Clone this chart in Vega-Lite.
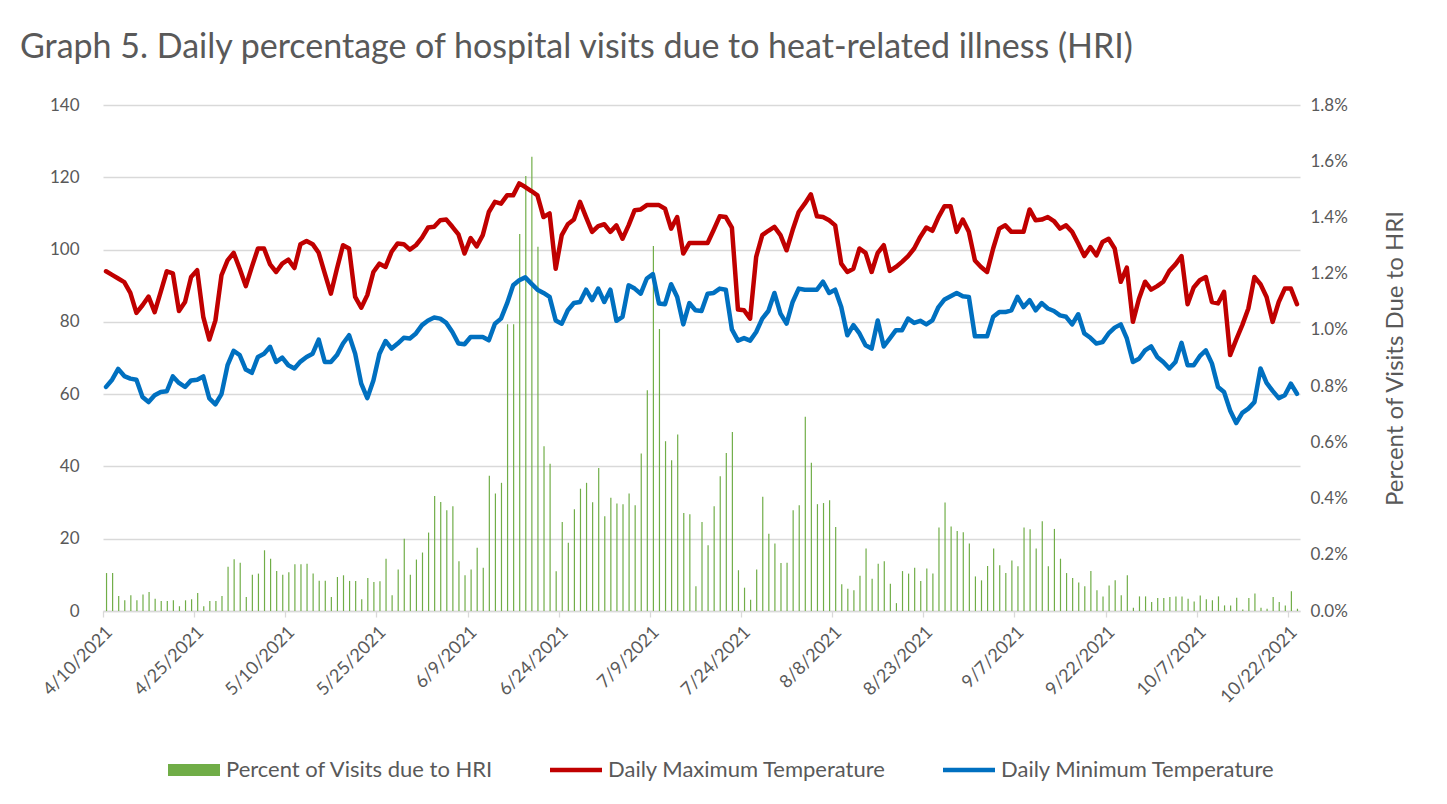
{
"$schema": "https://vega.github.io/schema/vega-lite/v6.json",
"width": 1197, "height": 506,
"autosize": {"type": "none"},
"padding": {"left": 103, "top": 105, "right": 147, "bottom": 193},
"background": "white",
"config": {"font": "Lato", "view": {"stroke": null}, "axis": {"labelFont": "Lato", "titleFont": "Lato", "labelColor": "#595959", "titleColor": "#595959"}, "legend": {"labelFont": "Lato"}},
"title": {"text": "Graph 5. Daily percentage of hospital visits due to heat-related illness (HRI)", "anchor": "start", "frame": "group", "dx": -83, "offset": 31, "fontSize": 34, "font": "Lato", "fontWeight": "normal", "color": "#595959"},
"data": {"values": [
{"d":"2021-04-10","hri":0.00135,"tmax":94,"tmin":62},
{"d":"2021-04-11","hri":0.00135,"tmax":93,"tmin":64},
{"d":"2021-04-12","hri":0.00053,"tmax":92,"tmin":67},
{"d":"2021-04-13","hri":0.00038,"tmax":91,"tmin":65},
{"d":"2021-04-14","hri":0.00056,"tmax":88,"tmin":64.3},
{"d":"2021-04-15","hri":0.00038,"tmax":82.5,"tmin":64},
{"d":"2021-04-16","hri":0.00059,"tmax":84.6,"tmin":59.2},
{"d":"2021-04-17","hri":0.00068,"tmax":87,"tmin":57.8},
{"d":"2021-04-18","hri":0.00044,"tmax":82.7,"tmin":59.7},
{"d":"2021-04-19","hri":0.00036,"tmax":88.3,"tmin":60.6},
{"d":"2021-04-20","hri":0.00036,"tmax":94,"tmin":60.8},
{"d":"2021-04-21","hri":0.00038,"tmax":93.4,"tmin":64.9},
{"d":"2021-04-22","hri":0.00017,"tmax":83,"tmin":63.1},
{"d":"2021-04-23","hri":0.00038,"tmax":85.5,"tmin":62},
{"d":"2021-04-24","hri":0.00042,"tmax":92.4,"tmin":63.8},
{"d":"2021-04-25","hri":0.00064,"tmax":94.3,"tmin":64},
{"d":"2021-04-26","hri":0.00017,"tmax":81.4,"tmin":64.9},
{"d":"2021-04-27","hri":0.00036,"tmax":75.1,"tmin":58.8},
{"d":"2021-04-28","hri":0.00036,"tmax":80.4,"tmin":57.2},
{"d":"2021-04-29","hri":0.00053,"tmax":92.9,"tmin":60},
{"d":"2021-04-30","hri":0.00157,"tmax":97,"tmin":68},
{"d":"2021-05-01","hri":0.00184,"tmax":99.1,"tmin":72},
{"d":"2021-05-02","hri":0.00172,"tmax":94.7,"tmin":70.8},
{"d":"2021-05-03","hri":0.0005,"tmax":89.9,"tmin":66.8},
{"d":"2021-05-04","hri":0.00129,"tmax":95.2,"tmin":65.9},
{"d":"2021-05-05","hri":0.00133,"tmax":100.3,"tmin":70.3},
{"d":"2021-05-06","hri":0.00216,"tmax":100.3,"tmin":71.2},
{"d":"2021-05-07","hri":0.00186,"tmax":95.9,"tmin":73.1},
{"d":"2021-05-08","hri":0.00142,"tmax":93.8,"tmin":68.9},
{"d":"2021-05-09","hri":0.00129,"tmax":96.1,"tmin":70.1},
{"d":"2021-05-10","hri":0.00138,"tmax":97.2,"tmin":68},
{"d":"2021-05-11","hri":0.00166,"tmax":94.9,"tmin":67.1},
{"d":"2021-05-12","hri":0.00166,"tmax":101.5,"tmin":69},
{"d":"2021-05-13","hri":0.00168,"tmax":102.4,"tmin":70.3},
{"d":"2021-05-14","hri":0.00133,"tmax":101.5,"tmin":71.2},
{"d":"2021-05-15","hri":0.00108,"tmax":99.1,"tmin":75.1},
{"d":"2021-05-16","hri":0.00108,"tmax":93.4,"tmin":68.9},
{"d":"2021-05-17","hri":0.0005,"tmax":87.8,"tmin":68.9},
{"d":"2021-05-18","hri":0.00121,"tmax":94.7,"tmin":70.8},
{"d":"2021-05-19","hri":0.00127,"tmax":101.2,"tmin":74},
{"d":"2021-05-20","hri":0.00107,"tmax":100.3,"tmin":76.3},
{"d":"2021-05-21","hri":0.00107,"tmax":86.9,"tmin":71.2},
{"d":"2021-05-22","hri":0.00042,"tmax":83.9,"tmin":62.9},
{"d":"2021-05-23","hri":0.00117,"tmax":87.4,"tmin":58.9},
{"d":"2021-05-24","hri":0.00103,"tmax":93.8,"tmin":63.8},
{"d":"2021-05-25","hri":0.00106,"tmax":96.1,"tmin":71.2},
{"d":"2021-05-26","hri":0.00186,"tmax":95.2,"tmin":74.7},
{"d":"2021-05-27","hri":0.00056,"tmax":99.4,"tmin":72.6},
{"d":"2021-05-28","hri":0.00148,"tmax":101.7,"tmin":74},
{"d":"2021-05-29","hri":0.00257,"tmax":101.5,"tmin":75.6},
{"d":"2021-05-30","hri":0.00129,"tmax":100,"tmin":75.4},
{"d":"2021-05-31","hri":0.00183,"tmax":101.2,"tmin":76.8},
{"d":"2021-06-01","hri":0.00208,"tmax":103.3,"tmin":79.1},
{"d":"2021-06-02","hri":0.00279,"tmax":106.1,"tmin":80.4},
{"d":"2021-06-03","hri":0.00409,"tmax":106.3,"tmin":81.2},
{"d":"2021-06-04","hri":0.00388,"tmax":108.1,"tmin":80.9},
{"d":"2021-06-05","hri":0.00358,"tmax":108.3,"tmin":79.7},
{"d":"2021-06-06","hri":0.00373,"tmax":106.3,"tmin":77.2},
{"d":"2021-06-07","hri":0.00177,"tmax":104.2,"tmin":74},
{"d":"2021-06-08","hri":0.00127,"tmax":98.9,"tmin":73.8},
{"d":"2021-06-09","hri":0.00148,"tmax":103.2,"tmin":75.8},
{"d":"2021-06-10","hri":0.00225,"tmax":100.9,"tmin":75.8},
{"d":"2021-06-11","hri":0.00154,"tmax":104,"tmin":75.8},
{"d":"2021-06-12","hri":0.00481,"tmax":110.4,"tmin":74.9},
{"d":"2021-06-13","hri":0.00418,"tmax":113.2,"tmin":79.5},
{"d":"2021-06-14","hri":0.00456,"tmax":112.7,"tmin":80.9},
{"d":"2021-06-15","hri":0.0102,"tmax":115,"tmin":85.1},
{"d":"2021-06-16","hri":0.0102,"tmax":115,"tmin":90.1},
{"d":"2021-06-17","hri":0.01341,"tmax":118.3,"tmin":91.5},
{"d":"2021-06-18","hri":0.01547,"tmax":117.3,"tmin":92.3},
{"d":"2021-06-19","hri":0.01616,"tmax":116.2,"tmin":90.6},
{"d":"2021-06-20","hri":0.01296,"tmax":115,"tmin":88.9},
{"d":"2021-06-21","hri":0.00586,"tmax":109,"tmin":88},
{"d":"2021-06-22","hri":0.00524,"tmax":110,"tmin":86.9},
{"d":"2021-06-23","hri":0.00141,"tmax":94.7,"tmin":80.4},
{"d":"2021-06-24","hri":0.00317,"tmax":104,"tmin":79.5},
{"d":"2021-06-25","hri":0.00243,"tmax":107,"tmin":83.2},
{"d":"2021-06-26","hri":0.00362,"tmax":108.3,"tmin":85.2},
{"d":"2021-06-27","hri":0.00435,"tmax":113.2,"tmin":85.5},
{"d":"2021-06-28","hri":0.00456,"tmax":109,"tmin":88.9},
{"d":"2021-06-29","hri":0.00387,"tmax":104.9,"tmin":86},
{"d":"2021-06-30","hri":0.00509,"tmax":106.5,"tmin":89.2},
{"d":"2021-07-01","hri":0.00337,"tmax":107,"tmin":85.5},
{"d":"2021-07-02","hri":0.00403,"tmax":104.9,"tmin":88.9},
{"d":"2021-07-03","hri":0.00382,"tmax":106.7,"tmin":80.3},
{"d":"2021-07-04","hri":0.0038,"tmax":103,"tmin":81.4},
{"d":"2021-07-05","hri":0.00418,"tmax":106.7,"tmin":90.1},
{"d":"2021-07-06","hri":0.00376,"tmax":110.9,"tmin":89.2},
{"d":"2021-07-07","hri":0.0056,"tmax":111.1,"tmin":87.8},
{"d":"2021-07-08","hri":0.00785,"tmax":112.3,"tmin":92},
{"d":"2021-07-09","hri":0.01298,"tmax":112.3,"tmin":93.2},
{"d":"2021-07-10","hri":0.01003,"tmax":112.3,"tmin":85.1},
{"d":"2021-07-11","hri":0.00604,"tmax":111.3,"tmin":84.9},
{"d":"2021-07-12","hri":0.00536,"tmax":105.8,"tmin":90.4},
{"d":"2021-07-13","hri":0.00628,"tmax":109,"tmin":86.9},
{"d":"2021-07-14","hri":0.00349,"tmax":98.9,"tmin":79.3},
{"d":"2021-07-15","hri":0.00344,"tmax":101.8,"tmin":85.2},
{"d":"2021-07-16","hri":0.00088,"tmax":101.8,"tmin":83.2},
{"d":"2021-07-17","hri":0.00317,"tmax":101.8,"tmin":83},
{"d":"2021-07-18","hri":0.00234,"tmax":101.8,"tmin":87.8},
{"d":"2021-07-19","hri":0.00373,"tmax":105.4,"tmin":88},
{"d":"2021-07-20","hri":0.00479,"tmax":109.2,"tmin":89.2},
{"d":"2021-07-21","hri":0.00562,"tmax":109,"tmin":88.9},
{"d":"2021-07-22","hri":0.00637,"tmax":106.1,"tmin":77.9},
{"d":"2021-07-23","hri":0.00145,"tmax":83.4,"tmin":74.8},
{"d":"2021-07-24","hri":0.00083,"tmax":83.2,"tmin":75.5},
{"d":"2021-07-25","hri":0.0004,"tmax":80.9,"tmin":74.8},
{"d":"2021-07-26","hri":0.00148,"tmax":98,"tmin":77.2},
{"d":"2021-07-27","hri":0.00406,"tmax":104,"tmin":80.9},
{"d":"2021-07-28","hri":0.00275,"tmax":105.2,"tmin":83},
{"d":"2021-07-29","hri":0.0024,"tmax":106.3,"tmin":88},
{"d":"2021-07-30","hri":0.00171,"tmax":104,"tmin":82.3},
{"d":"2021-07-31","hri":0.00172,"tmax":99.8,"tmin":79.5},
{"d":"2021-08-01","hri":0.00358,"tmax":105.4,"tmin":85.5},
{"d":"2021-08-02","hri":0.00376,"tmax":110.4,"tmin":89.2},
{"d":"2021-08-03","hri":0.00691,"tmax":112.7,"tmin":88.9},
{"d":"2021-08-04","hri":0.00527,"tmax":115.3,"tmin":88.9},
{"d":"2021-08-05","hri":0.0038,"tmax":109.2,"tmin":88.9},
{"d":"2021-08-06","hri":0.00384,"tmax":109,"tmin":91.1},
{"d":"2021-08-07","hri":0.00394,"tmax":108.1,"tmin":88},
{"d":"2021-08-08","hri":0.00299,"tmax":106.7,"tmin":88.9},
{"d":"2021-08-09","hri":0.00095,"tmax":96.1,"tmin":84.1},
{"d":"2021-08-10","hri":0.00079,"tmax":93.8,"tmin":76.3},
{"d":"2021-08-11","hri":0.00074,"tmax":94.7,"tmin":79.1},
{"d":"2021-08-12","hri":0.00125,"tmax":100.3,"tmin":76.8},
{"d":"2021-08-13","hri":0.00222,"tmax":99.1,"tmin":73.5},
{"d":"2021-08-14","hri":0.00115,"tmax":93.8,"tmin":72.6},
{"d":"2021-08-15","hri":0.00168,"tmax":99.1,"tmin":80.4},
{"d":"2021-08-16","hri":0.00177,"tmax":101.2,"tmin":73.2},
{"d":"2021-08-17","hri":0.00097,"tmax":94.1,"tmin":75.4},
{"d":"2021-08-18","hri":0.00028,"tmax":95.2,"tmin":77.7},
{"d":"2021-08-19","hri":0.00142,"tmax":96.6,"tmin":77.7},
{"d":"2021-08-20","hri":0.00133,"tmax":98.2,"tmin":80.9},
{"d":"2021-08-21","hri":0.00154,"tmax":100.3,"tmin":79.7},
{"d":"2021-08-22","hri":0.00107,"tmax":103.5,"tmin":80.3},
{"d":"2021-08-23","hri":0.00151,"tmax":106.1,"tmin":79.3},
{"d":"2021-08-24","hri":0.00133,"tmax":105.2,"tmin":80.4},
{"d":"2021-08-25","hri":0.00297,"tmax":109,"tmin":84.1},
{"d":"2021-08-26","hri":0.00386,"tmax":112,"tmin":86.2},
{"d":"2021-08-27","hri":0.00301,"tmax":112,"tmin":87.1},
{"d":"2021-08-28","hri":0.00285,"tmax":104.9,"tmin":88},
{"d":"2021-08-29","hri":0.0028,"tmax":108.3,"tmin":87.1},
{"d":"2021-08-30","hri":0.0024,"tmax":104.9,"tmin":86.9},
{"d":"2021-08-31","hri":0.00123,"tmax":97,"tmin":76},
{"d":"2021-09-01","hri":0.00109,"tmax":95.2,"tmin":76},
{"d":"2021-09-02","hri":0.0016,"tmax":93.8,"tmin":76},
{"d":"2021-09-03","hri":0.00222,"tmax":100.3,"tmin":81.4},
{"d":"2021-09-04","hri":0.00163,"tmax":105.8,"tmin":82.7},
{"d":"2021-09-05","hri":0.00135,"tmax":106.7,"tmin":82.7},
{"d":"2021-09-06","hri":0.0018,"tmax":104.9,"tmin":83.2},
{"d":"2021-09-07","hri":0.00159,"tmax":104.9,"tmin":86.9},
{"d":"2021-09-08","hri":0.00297,"tmax":104.9,"tmin":84.1},
{"d":"2021-09-09","hri":0.00291,"tmax":111.1,"tmin":86},
{"d":"2021-09-10","hri":0.00222,"tmax":108.1,"tmin":83.2},
{"d":"2021-09-11","hri":0.00319,"tmax":108.3,"tmin":85.2},
{"d":"2021-09-12","hri":0.00159,"tmax":109,"tmin":83.7},
{"d":"2021-09-13","hri":0.00292,"tmax":107.9,"tmin":83},
{"d":"2021-09-14","hri":0.00186,"tmax":105.8,"tmin":81.8},
{"d":"2021-09-15","hri":0.00135,"tmax":106.7,"tmin":81.4},
{"d":"2021-09-16","hri":0.00117,"tmax":104.9,"tmin":79.3},
{"d":"2021-09-17","hri":0.00101,"tmax":101.7,"tmin":82.1},
{"d":"2021-09-18","hri":0.00088,"tmax":98.2,"tmin":76.8},
{"d":"2021-09-19","hri":0.00142,"tmax":100.7,"tmin":75.6},
{"d":"2021-09-20","hri":0.00074,"tmax":98.4,"tmin":74},
{"d":"2021-09-21","hri":0.00052,"tmax":102.1,"tmin":74.4},
{"d":"2021-09-22","hri":0.00091,"tmax":103,"tmin":76.8},
{"d":"2021-09-23","hri":0.00109,"tmax":100.3,"tmin":78.4},
{"d":"2021-09-24","hri":0.00056,"tmax":91.1,"tmin":79.3},
{"d":"2021-09-25","hri":0.00127,"tmax":95,"tmin":75.4},
{"d":"2021-09-26","hri":0.00012,"tmax":80,"tmin":68.9},
{"d":"2021-09-27","hri":0.00052,"tmax":86.4,"tmin":69.8},
{"d":"2021-09-28","hri":0.00052,"tmax":91.1,"tmin":72.1},
{"d":"2021-09-29","hri":0.00032,"tmax":88.9,"tmin":73.2},
{"d":"2021-09-30","hri":0.00046,"tmax":89.9,"tmin":70.3},
{"d":"2021-10-01","hri":0.00046,"tmax":91.1,"tmin":68.9},
{"d":"2021-10-02","hri":0.0005,"tmax":94.1,"tmin":67.1},
{"d":"2021-10-03","hri":0.00052,"tmax":95.9,"tmin":68.9},
{"d":"2021-10-04","hri":0.00052,"tmax":98.2,"tmin":74.2},
{"d":"2021-10-05","hri":0.00044,"tmax":84.9,"tmin":68},
{"d":"2021-10-06","hri":0.00034,"tmax":89.5,"tmin":68},
{"d":"2021-10-07","hri":0.00055,"tmax":91.5,"tmin":70.5},
{"d":"2021-10-08","hri":0.00042,"tmax":92.4,"tmin":72.1},
{"d":"2021-10-09","hri":0.00038,"tmax":85.5,"tmin":68.5},
{"d":"2021-10-10","hri":0.00052,"tmax":85.1,"tmin":62},
{"d":"2021-10-11","hri":0.0002,"tmax":88.3,"tmin":60.6},
{"d":"2021-10-12","hri":0.0002,"tmax":70.8,"tmin":55.5},
{"d":"2021-10-13","hri":0.00047,"tmax":75.1,"tmin":52},
{"d":"2021-10-14","hri":0.00005,"tmax":79.1,"tmin":54.8},
{"d":"2021-10-15","hri":0.00046,"tmax":83.7,"tmin":56},
{"d":"2021-10-16","hri":0.00062,"tmax":92.4,"tmin":57.8},
{"d":"2021-10-17","hri":0.00012,"tmax":90.4,"tmin":67.1},
{"d":"2021-10-18","hri":0.00008,"tmax":86.9,"tmin":63.1},
{"d":"2021-10-19","hri":0.0005,"tmax":80,"tmin":60.9},
{"d":"2021-10-20","hri":0.00032,"tmax":85.5,"tmin":58.9},
{"d":"2021-10-21","hri":0.0002,"tmax":89.2,"tmin":59.7},
{"d":"2021-10-22","hri":0.0007,"tmax":89.2,"tmin":62.9},
{"d":"2021-10-23","hri":0.00008,"tmax":84.9,"tmin":60.1}
]},
"layer": [
{"mark": {"type": "bar", "width": {"band": 0.36}},
 "encoding": {
  "x": {"field": "d", "type": "temporal", "timeUnit": "utcyearmonthdate", "title": null,
        "scale": {"domain": [{"year": 2021, "month": 4, "date": 10, "utc": true}, {"year": 2021, "month": 10, "date": 24, "utc": true}], "nice": false},
        "axis": {"values": [{"year": 2021, "month": 4, "date": 10, "utc": true}, {"year": 2021, "month": 4, "date": 25, "utc": true}, {"year": 2021, "month": 5, "date": 10, "utc": true}, {"year": 2021, "month": 5, "date": 25, "utc": true}, {"year": 2021, "month": 6, "date": 9, "utc": true}, {"year": 2021, "month": 6, "date": 24, "utc": true}, {"year": 2021, "month": 7, "date": 9, "utc": true}, {"year": 2021, "month": 7, "date": 24, "utc": true}, {"year": 2021, "month": 8, "date": 8, "utc": true}, {"year": 2021, "month": 8, "date": 23, "utc": true}, {"year": 2021, "month": 9, "date": 7, "utc": true}, {"year": 2021, "month": 9, "date": 22, "utc": true}, {"year": 2021, "month": 10, "date": 7, "utc": true}, {"year": 2021, "month": 10, "date": 22, "utc": true}],
                 "labelExpr": "utcFormat(datum.value, '%-m/%-d/%Y')", "labelAngle": -45, "labelFontSize": 18, "labelPadding": 6, "labelFlush": false, "labelOverlap": false,
                 "domainColor": "#D9D9D9", "domainWidth": 1.3, "tickColor": "#D9D9D9", "tickSize": 6, "tickWidth": 1.3, "grid": false}},
  "y": {"field": "hri", "type": "quantitative", "title": "Percent of Visits Due to HRI",
        "scale": {"domain": [0, 0.018], "nice": false},
        "axis": {"orient": "right", "values": [0, 0.002, 0.004, 0.006, 0.008, 0.01, 0.012, 0.014, 0.016, 0.018], "format": ".1%", "grid": false, "domain": false, "ticks": false, "labelFontSize": 17, "labelPadding": 10, "titleFontSize": 24, "titleFontWeight": "normal", "titleAngle": 270, "titlePadding": 60}},
  "color": {"datum": "Percent of Visits due to HRI",
        "scale": {"domain": ["Percent of Visits due to HRI", "Daily Maximum Temperature", "Daily Minimum Temperature"], "range": ["#70AD47", "#C00000", "#0070C0"]},
        "legend": {"orient": "none", "legendX": 65, "legendY": 639, "direction": "horizontal", "title": null, "symbolType": "square", "symbolSize": 2704, "labelFontSize": 22, "labelColor": "#595959", "labelLimit": 600, "columnPadding": 56, "labelOffset": 6,
                   "encode": {"symbols": {"update": {"shape": {"signal": "datum.value === 'Percent of Visits due to HRI' ? 'M-1,-0.23H1V0.23H-1Z' : 'M-1,-0.09H1V0.09H-1Z'"}, "fill": {"scale": "color", "field": "value"}, "fillOpacity": {"value": 1}, "opacity": {"value": 1}, "stroke": {"value": "transparent"}, "strokeWidth": {"value": 0}}}}}}
 }},
{"layer": [
  {"mark": {"type": "line", "strokeWidth": 4.5, "strokeJoin": "round", "strokeCap": "round"},
   "encoding": {
    "x": {"field": "d", "type": "temporal", "timeUnit": "utcyearmonthdate", "bandPosition": 0.5, "title": null},
    "y": {"field": "tmax", "type": "quantitative", "title": null,
          "scale": {"domain": [0, 140], "nice": false},
          "axis": {"orient": "left", "values": [0, 20, 40, 60, 80, 100, 120, 140], "grid": true, "gridColor": "#D9D9D9", "gridWidth": 1.3, "domain": false, "ticks": false, "labelFontSize": 17, "labelPadding": 24, "title": null}},
    "color": {"datum": "Daily Maximum Temperature"}
   }},
  {"mark": {"type": "line", "strokeWidth": 4.5, "strokeJoin": "round", "strokeCap": "round"},
   "encoding": {
    "x": {"field": "d", "type": "temporal", "timeUnit": "utcyearmonthdate", "bandPosition": 0.5, "title": null},
    "y": {"field": "tmin", "type": "quantitative", "title": null},
    "color": {"datum": "Daily Minimum Temperature"}
   }}
 ]}
],
"resolve": {"scale": {"y": "independent"}}
}
